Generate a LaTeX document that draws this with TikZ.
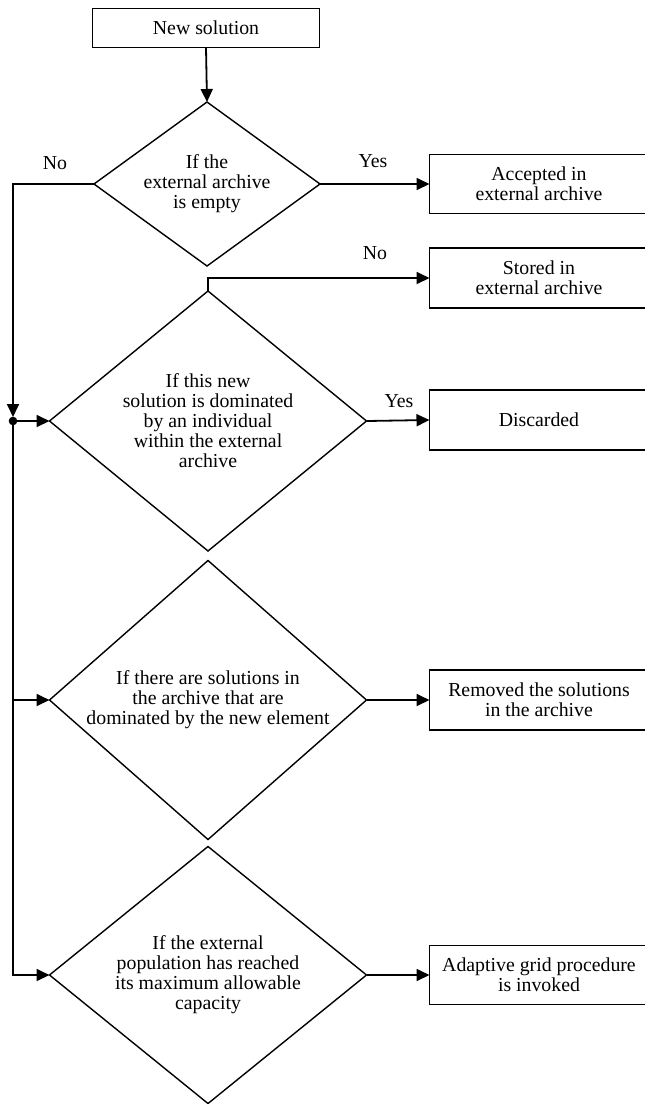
\documentclass[tikz,border=0pt]{standalone}
\usepackage{fontspec}
\setmainfont{Liberation Serif}
\usetikzlibrary{shapes.geometric,arrows.meta}
\begin{document}
\begin{tikzpicture}[x=1pt,y=-1pt,font=\fontsize{19.8}{20}\selectfont,
  box/.style={draw,line width=1.8pt,minimum width=219pt,minimum height=60pt,inner sep=0pt,outer sep=0pt,align=center},
  test/.style={draw,diamond,line width=1.4pt,minimum width=317pt,inner sep=0pt,outer sep=0pt,align=center},
  arr/.style={line width=1.8pt,-{Triangle[length=13pt,width=12pt]}}]
\useasboundingbox (0,0) rectangle (645,1104);
\node[box,minimum width=227pt,minimum height=39pt] (nsol) at (206,28) {New solution};
\node[test,minimum width=226pt,minimum height=164pt,aspect=1.38] (empty) at (207,184) {If the\\external archive\\is empty};
\node[test,minimum height=260pt,aspect=1.22] (dom) at (208,421) {If this new\\solution is dominated\\by an individual\\within the external\\archive};
\node[test,minimum height=279pt,aspect=1.13] (rem) at (208,700) {If there are solutions in\\the archive that are\\dominated by the new element};
\node[test,minimum height=257pt,aspect=1.23] (full) at (208,975) {If the external\\population has reached\\its maximum allowable\\capacity};
\node[box,minimum height=59pt] (accept) at (539,184) {Accepted in\\external archive};
\node[box] (store) at (539,278) {Stored in\\external archive};
\node[box] (discard) at (539,420) {Discarded};
\node[box] (removed) at (539,700) {Removed the solutions\\in the archive};
\node[box,minimum height=59pt] (grid) at (539,975) {Adaptive grid procedure\\is invoked};
\coordinate (j) at (13,421);
\draw[arr] (nsol.south) -- (empty.north);
\draw[arr] (empty.east) -- (accept.west);
\draw[arr] (dom.north) |- (store.west);
\draw[arr] (dom.east) -- (discard.west);
\draw[arr] (rem.east) -- (removed.west);
\draw[arr] (full.east) -- (grid.west);
\draw[arr,shorten >=4pt] (empty.west) -| (j);
\draw[arr] (j) -- (dom.west);
\draw[arr] (j) |- (rem.west);
\draw[arr] (j) |- (full.west);
\fill (j) circle (4.3);
\node (no1) at (55,163) {No};
\node (yes1) at (373,161) {Yes};
\node (no2) at (375,253) {No};
\node (yes2) at (399,401) {Yes};
\end{tikzpicture}
\end{document}
